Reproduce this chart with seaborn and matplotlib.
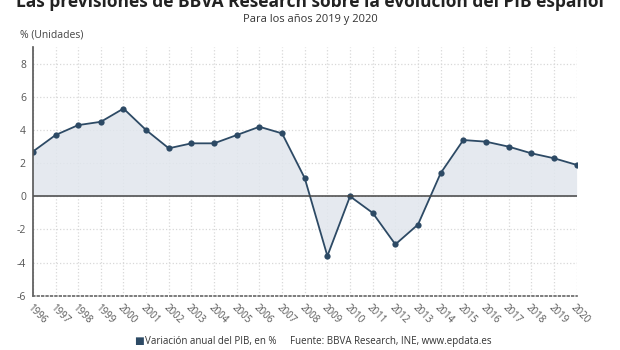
import pandas as pd
import seaborn as sns
import matplotlib.pyplot as plt

years = list(range(1996, 2021))
pib = [2.7, 3.7, 4.3, 4.5, 5.3, 4.0, 2.9, 3.2, 3.2, 3.7, 4.2, 3.8, 1.1, -3.6,
       0.0, -1.0, -2.9, -1.7, 1.4, 3.4, 3.3, 3.0, 2.6, 2.3, 1.9]
yticks = [-6, -4, -2, 0, 2, 4, 6, 8]

df = pd.DataFrame({'year': years, 'pib': pib})

sns.set_style('whitegrid')
plt.rcParams['font.family'] = ['Open Sans', 'DejaVu Sans']

line_col = '#2d4a65'

fig = plt.figure(figsize=(6.2, 3.5), dpi=100)
ax = fig.add_axes([0.053, 0.155, 0.877, 0.71])

ax.fill_between(df['year'], df['pib'], 0, color='#e1e6ed', alpha=0.85, lw=0)
sns.lineplot(data=df, x='year', y='pib', ax=ax, color=line_col, lw=1.3,
             marker='o', markersize=4.5, markeredgewidth=0)
ax.axhline(0, color='#444444', lw=1.1)

ax.set_xlim(1996, 2020)
ax.set_ylim(-6, 9)
ax.set_xticks(years)
ax.set_xticklabels([str(y) for y in years], rotation=-45, ha='left',
                   rotation_mode='anchor', fontsize=7, color='#555555')
ax.set_yticks(yticks)
ax.set_yticklabels([str(v) for v in yticks], fontsize=7.5, color='#555555')
ax.set_xlabel('')
ax.set_ylabel('')
ax.grid(True, color='#d8d8d8', ls=':', lw=0.9)
ax.tick_params(axis='both', length=2, pad=3, color='#555555')

for s in ['top', 'right']:
    ax.spines[s].set_visible(False)
ax.spines['left'].set_color('#555555')
ax.spines['left'].set_linewidth(1.2)
ax.spines['bottom'].set_color('#666666')
ax.spines['bottom'].set_linestyle(':')
ax.spines['bottom'].set_linewidth(1.2)

fig.text(0.5, 0.995, 'Las previsiones de BBVA Research sobre la evolución del PIB español',
         ha='center', va='center', fontsize=12.5, weight='bold', color='#222222')
fig.text(0.5, 0.945, 'Para los años 2019 y 2020', ha='center', va='center',
         fontsize=8, color='#333333')
fig.text(0.032, 0.9, '% (Unidades)', ha='left', va='center', fontsize=7.5,
         color='#444444')

fig.text(0.217, 0.025, '■', ha='left', va='center', fontsize=7.5, color=line_col)
fig.text(0.234, 0.025, 'Variación anual del PIB, en %', ha='left', va='center',
         fontsize=7, color='#333333')
fig.text(0.468, 0.025, 'Fuente: BBVA Research, INE, www.epdata.es', ha='left',
         va='center', fontsize=7, color='#333333')

fig.savefig('out.png', dpi=100)
